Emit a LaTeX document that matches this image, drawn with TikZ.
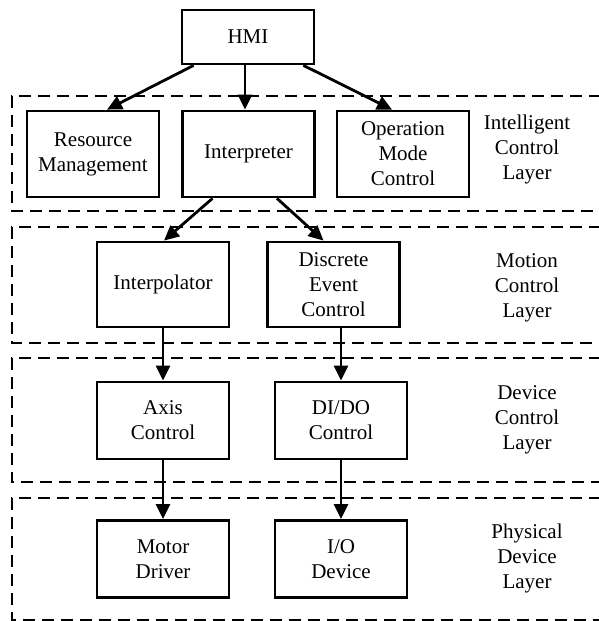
\documentclass[tikz,border=0pt]{standalone}
\usepackage{fontspec}
\setmainfont{Liberation Serif}
\usetikzlibrary{arrows.meta,positioning}

\begin{document}
\begin{tikzpicture}[x=1pt,y=-1pt,every node/.style={font=\fontsize{21}{25}\selectfont}]
\tikzstyle{block} = [draw,line width=2.8pt,minimum width=132pt,align=center,inner sep=0pt]
\tikzstyle{layer} = [line width=2.8pt,dash pattern=on 12pt off 7pt]
\tikzstyle{flow} = [line width=2.8pt,-{Triangle[length=15pt,width=14pt]}]
\tikzstyle{tag} = [align=center]

\useasboundingbox (0,0) rectangle (598,621);

% layers
\draw[layer] (620,96) -- (12,96) -- (12,211) -- (620,211);
\draw[layer] (620,227) -- (12,227) -- (12,343) -- (620,343);
\draw[layer] (620,358) -- (12,358) -- (12,482) -- (620,482);
\draw[layer] (620,498) -- (12,498) -- (12,620) -- (620,620);

\node[block,minimum height=54pt] (hmi) at (248,37) {HMI};

\node[block,minimum height=86pt] (res) at (93,154) {Resource\\Management};
\node[block,minimum height=86pt] (intr) at (248.5,154) {Interpreter};
\node[block,minimum height=86pt] (opm) at (403,154) {Operation\\Mode\\Control};

\node[block,minimum height=85pt] (intp) at (163,284.5) {Interpolator};
\node[block,minimum height=85pt] (dec) at (333.5,284.5) {Discrete\\Event\\Control};

\node[block,minimum height=77pt,below of=intp,node distance=136pt] (axis) {Axis\\Control};
\node[block,minimum height=77pt] (dido) at (341,420.5) {DI/DO\\Control};

\node[block,minimum height=77pt,below of=axis,node distance=138.5pt] (motor) {Motor\\Driver};
\node[block,minimum height=77pt,below of=dido,node distance=138.5pt] (io) {I/O\\Device};

\node[tag] (l1) at (527,149) {Intelligent\\Control\\Layer};
\node[tag] (l2) at (527,288) {Motion\\Control\\Layer};
\node[tag] (l3) at (527,420) {Device\\Control\\Layer};
\node[tag] (l4) at (527,558) {Physical\\Device\\Layer};

\draw[flow] ([xshift=13pt]hmi.south west) -- ([xshift=14pt]res.north);
\draw[flow] ([xshift=-3pt]hmi.south) -- ([xshift=-3.5pt]intr.north);
\draw[flow] ([xshift=-12pt]hmi.south east) -- ([xshift=-11pt]opm.north);

\draw[flow] ([xshift=-36pt]intr.south) -- ([xshift=1pt]intp.north);
\draw[flow] ([xshift=28.5pt]intr.south) -- ([xshift=-10pt]dec.north);

\draw[flow] (intp) -- (axis);
\draw[flow] (dec.south -| dido) -- (dido);
\draw[flow] (axis) -- (motor);
\draw[flow] (dido) -- (io);
\end{tikzpicture}
\end{document}
